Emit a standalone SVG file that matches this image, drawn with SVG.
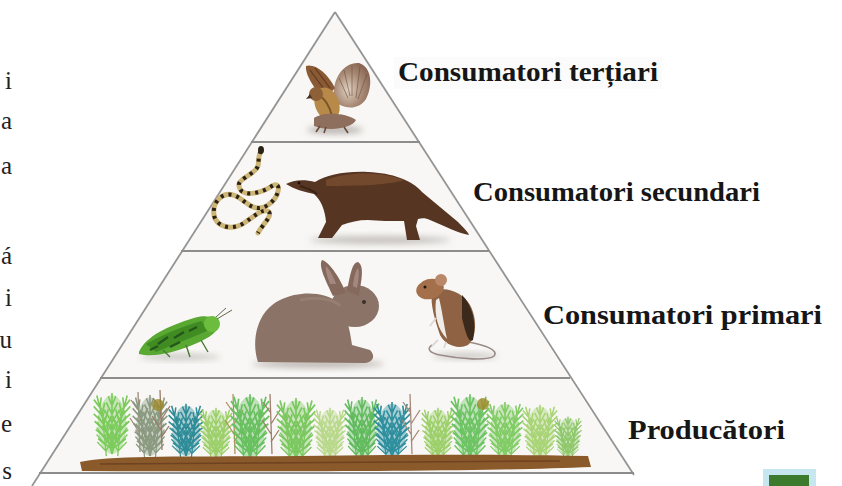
<svg xmlns="http://www.w3.org/2000/svg" width="842" height="486" viewBox="0 0 842 486">
  <style>
    .edge { stroke: #949494; stroke-width: 1.8; fill: none; }
    .shelf { stroke: #8c8c8c; stroke-width: 2.2; }
    .tier { fill: #f8f7f5; }
    .lbl { font-family: "Liberation Serif", "Times New Roman", serif; font-weight: bold; font-size: 28px; fill: #161616; }
    .side { font-family: "Liberation Serif", "Times New Roman", serif; font-size: 25px; fill: #222; text-anchor: end; }
    .lblbg { fill: #f3f3f3; }
  </style>
  <defs>
    <filter id="soft" x="-10%" y="-10%" width="120%" height="120%">
      <feGaussianBlur stdDeviation="0.7"/>
    </filter>
    <filter id="shadow" x="-30%" y="-60%" width="160%" height="220%">
      <feGaussianBlur stdDeviation="3"/>
    </filter>
    <radialGradient id="fan" cx="0.4" cy="0.6" r="0.7">
      <stop offset="0" stop-color="#e0d2c2"/>
      <stop offset="0.55" stop-color="#a88a76"/>
      <stop offset="1" stop-color="#84604e"/>
    </radialGradient>
    <!-- one fern frond, coloured through currentColor -->
    <path id="frond" d="M0,0 L0,-58 M0,-6 L-10,-18 M0,-6 L10,-18 M0,-14 L-10,-27 M0,-14 L10,-27 M0,-22 L-9,-35 M0,-22 L9,-35 M0,-30 L-8,-42 M0,-30 L8,-42 M0,-38 L-6,-49 M0,-38 L6,-49 M0,-46 L-4,-55 M0,-46 L4,-55" stroke="currentColor" stroke-width="1.7" fill="none"/>
    <g id="bush">
      <ellipse cx="0" cy="-28" rx="15" ry="28" fill="currentColor" opacity="0.4"/>
      <use href="#frond" transform="rotate(-16)"/>
      <use href="#frond"/>
      <use href="#frond" transform="rotate(16)"/>
      <use href="#frond" transform="translate(-6,2) rotate(-6) scale(0.8)"/>
      <use href="#frond" transform="translate(6,2) rotate(6) scale(0.8)"/>
    </g>
    <!-- dry stalks -->
    <path id="stalk" d="M0,0 L-2,-60 M-1,-20 L-10,-34 M-1,-30 L8,-44 M-2,-42 L-9,-52 M-1,-12 L7,-24" stroke="currentColor" stroke-width="1.3" fill="none"/>
  </defs>

  <rect width="842" height="486" fill="#ffffff"/>

  <!-- text column running into the left edge -->
  <g id="side-text">
    <text class="side" x="12" y="89">i</text>
    <text class="side" x="12" y="129">a</text>
    <text class="side" x="12" y="174">a</text>
    <text class="side" x="12" y="264">á</text>
    <text class="side" x="12" y="306">i</text>
    <text class="side" x="12" y="348">u</text>
    <text class="side" x="12" y="388">i</text>
    <text class="side" x="12" y="432">e</text>
    <text class="side" x="12" y="479">s</text>
  </g>

  <!-- pyramid body -->
  <g id="pyramid">
    <polygon class="tier" points="335,12 251.8,142 418.2,142"/>
    <polygon class="tier" points="251.8,142 418.2,142 488,251 182,251"/>
    <polygon class="tier" points="182,251 488,251 569,378 101,378"/>
    <polygon class="tier" points="101,378 569,378 632,473 40,473"/>
    <line class="edge" x1="335" y1="12" x2="32" y2="486"/>
    <line class="edge" x1="335" y1="12" x2="634" y2="475"/>
    <line class="shelf" x1="251" y1="142" x2="420" y2="142"/>
    <line class="shelf" x1="181" y1="251" x2="489" y2="251"/>
    <line class="shelf" x1="100" y1="378" x2="570" y2="378"/>
    <line class="shelf" x1="39" y1="473" x2="634" y2="473"/>
  </g>

  <!-- top tier: bird of prey -->
  <g id="tertiary" filter="url(#soft)">
    <ellipse cx="335" cy="130" rx="28" ry="4" fill="#b9b4b0" filter="url(#shadow)"/>
    <path d="M334,98 C332,78 344,62 359,63 C372,67 373,86 366,99 C359,110 344,110 334,101 Z" fill="url(#fan)"/>
    <path d="M344,70 L350,96 M352,66 L352,96 M360,66 L356,98 M367,74 L358,99 M339,78 L348,98" stroke="#6e4e3e" stroke-width="1" opacity="0.6"/>
    <path d="M324,100 C316,90 305,76 306,66 C314,63 327,72 335,88 Z" fill="#8a5a36"/>
    <path d="M310,70 L326,92 M315,68 L330,88" stroke="#5e3a22" stroke-width="1.2"/>
    <ellipse cx="327" cy="104" rx="12" ry="17" transform="rotate(-20 327 104)" fill="#b88a4a"/>
    <path d="M320,96 C326,100 330,108 332,116" stroke="#7a5428" stroke-width="2" fill="none"/>
    <circle cx="316" cy="94" r="7" fill="#8e6038"/>
    <path d="M310,94 L306,99 L312,98 Z" fill="#4a3020"/>
    <path d="M314,118 C322,112 345,112 356,120 C352,128 330,132 314,126 Z" fill="#8e6e5c"/>
    <path d="M320,126 L316,132 M326,127 L324,133 M344,127 L348,133" stroke="#6a4a3a" stroke-width="1.6"/>
  </g>

  <!-- second tier: snake and mongoose -->
  <g id="secondary" filter="url(#soft)">
    <ellipse cx="380" cy="240" rx="70" ry="4" fill="#c4c0bc" filter="url(#shadow)"/>
    <path d="M261,151 C256,159 262,166 253,172 C243,180 236,181 240,189 C244,197 262,193 272,186 C282,180 280,197 268,205 C254,214 246,201 236,196 C222,190 212,203 214,215 C216,227 232,231 244,223 C256,215 262,209 268,211 C274,215 262,225 258,233" stroke="#cdb577" stroke-width="5" fill="none" stroke-linecap="round"/>
    <path d="M261,151 C256,159 262,166 253,172 C243,180 236,181 240,189 C244,197 262,193 272,186 C282,180 280,197 268,205 C254,214 246,201 236,196 C222,190 212,203 214,215 C216,227 232,231 244,223 C256,215 262,209 268,211 C274,215 262,225 258,233" stroke="#2a2214" stroke-width="4" fill="none" stroke-dasharray="3 5"/>
    <ellipse cx="261" cy="150" rx="3" ry="4" fill="#2a2214"/>
    <path d="M286,184 C293,180 304,179 315,182 C326,175 345,171 368,172 C392,173 412,180 422,192 C434,202 446,212 458,222 C464,228 468,232 469,235 C458,233 444,226 430,220 C426,218 422,218 418,219 L416,226 L420,240 L407,240 L404,221 C392,221 378,221 368,220 C358,220 350,222 342,225 L332,238 L318,238 L326,222 C325,210 321,200 314,194 C304,192 294,189 286,184 Z" fill="#563522"/>
    <path d="M326,180 C346,172 380,171 404,180 C390,185 358,186 326,186 Z" fill="#7a4e32" opacity="0.8"/>
    <path d="M300,186 C306,188 313,190 317,194" stroke="#3a2418" stroke-width="2" fill="none"/>
    <circle cx="299" cy="183" r="1.4" fill="#1a0e08"/>
  </g>

  <!-- third tier: grasshopper, rabbit, mouse -->
  <g id="primary" filter="url(#soft)">
    <ellipse cx="180" cy="357" rx="40" ry="3" fill="#c8c4c0" filter="url(#shadow)"/>
    <ellipse cx="318" cy="364" rx="66" ry="4" fill="#bcb6b2" filter="url(#shadow)"/>
    <ellipse cx="465" cy="356" rx="32" ry="3" fill="#c8c4c0" filter="url(#shadow)"/>

    <g id="grasshopper">
      <path d="M139,352 C146,336 168,326 194,318 C206,314 216,317 219,325 C217,334 205,340 190,346 C174,352 154,358 139,354 Z" fill="#58a832"/>
      <path d="M146,344 C160,336 185,325 202,321 L207,331 C190,338 170,346 156,352 Z" fill="#3f8c24"/>
      <path d="M158,344 L168,337 M174,338 L184,332 M189,331 L197,327 M150,350 L158,346 M170,347 L180,342" stroke="#24561a" stroke-width="2.4"/>
      <ellipse cx="212" cy="324" rx="8" ry="8" fill="#6cbd3c"/>
      <path d="M217,319 L232,310 M216,317 L226,308" stroke="#5a6a50" stroke-width="1"/>
      <path d="M186,345 L190,357 M201,340 L208,352 M163,350 L170,357" stroke="#4a7a30" stroke-width="1.4"/>
    </g>

    <g id="rabbit">
      <path d="M258,362 C251,340 257,311 280,300 C300,290 325,292 338,302 C346,311 350,330 352,345 L370,350 C376,356 373,362 365,363 Z" fill="#8b7367"/>
      <ellipse cx="355" cy="306" rx="24" ry="21" fill="#8b7367"/>
      <path d="M333,296 C326,281 318,266 322,260 C330,262 341,280 346,293 Z" fill="#86695d"/>
      <path d="M347,291 C350,276 352,262 358,262 C365,266 361,282 359,296 Z" fill="#86695d"/>
      <path d="M330,284 C327,276 325,270 326,266 C330,270 334,278 336,284 Z" fill="#a48880"/>
      <path d="M353,286 C354,276 356,270 358,268 C360,274 358,282 357,288 Z" fill="#a48880"/>
      <circle cx="364" cy="302" r="2" fill="#3e2e28"/>
      <path d="M300,300 C320,296 335,300 340,306" stroke="#9c857a" stroke-width="3" fill="none" opacity="0.6"/>
    </g>

    <g id="mouse">
      <path d="M468,342 C485,345 499,350 494,356 C488,361 460,359 440,355 C430,353 426,349 432,345" stroke="#9a8c88" stroke-width="1.6" fill="none"/>
      <path d="M432,292 C445,285 462,292 470,305 C478,320 476,338 468,345 C458,350 445,345 440,335 C435,320 430,305 432,292 Z" fill="#8e6242"/>
      <path d="M462,295 C472,305 477,322 473,340 C468,344 465,330 462,318 Z" fill="#3a2a1e"/>
      <path d="M436,300 C434,315 438,330 447,339 C444,325 442,310 439,298 Z" fill="#f0ece8"/>
      <ellipse cx="430" cy="289" rx="14" ry="10" transform="rotate(-15 430 289)" fill="#a4704c"/>
      <circle cx="441" cy="280" r="6" fill="#b88868"/>
      <circle cx="425" cy="287" r="1.5" fill="#1e140e"/>
      <path d="M438,340 L432,346 M446,342 L444,348 M436,318 L430,326" stroke="#e0d8d4" stroke-width="2"/>
    </g>
  </g>

  <!-- bottom tier: plants on soil -->
  <g id="producers" filter="url(#soft)">
    <g>
      <use href="#bush" transform="translate(112,454) scale(0.95,1.05)" style="color:#7ccb5c"/>
      <use href="#stalk" transform="translate(140,452)" style="color:#a08a78"/>
      <use href="#bush" transform="translate(150,456) scale(0.9,1.05)" style="color:#8a9a80"/>
      <use href="#stalk" transform="translate(162,450)" style="color:#9a7a68"/>
      <use href="#bush" transform="translate(186,456) scale(0.9)" style="color:#2e8c98"/>
      <use href="#bush" transform="translate(216,457) scale(0.85)" style="color:#9ccf6a"/>
      <use href="#stalk" transform="translate(235,454)" style="color:#b09060"/>
      <use href="#bush" transform="translate(250,458) scale(1.0,1.1)" style="color:#68c060"/>
      <use href="#stalk" transform="translate(272,454)" style="color:#a07e6e"/>
      <use href="#bush" transform="translate(296,459) scale(1.0,1.05)" style="color:#7cc860"/>
      <use href="#bush" transform="translate(330,457) scale(0.85)" style="color:#b8d88a"/>
      <use href="#bush" transform="translate(362,458) scale(0.9,1.05)" style="color:#62bb5e"/>
      <use href="#bush" transform="translate(392,457) scale(0.95)" style="color:#2e8f9e"/>
      <use href="#stalk" transform="translate(412,454)" style="color:#a88878"/>
      <use href="#bush" transform="translate(438,457) scale(0.85)" style="color:#9ccf6a"/>
      <use href="#bush" transform="translate(470,458) scale(1.0,1.1)" style="color:#6ec464"/>
      <use href="#bush" transform="translate(505,457) scale(0.95)" style="color:#82cc66"/>
      <use href="#bush" transform="translate(540,457) scale(0.9)" style="color:#a8d476"/>
      <use href="#bush" transform="translate(568,457) scale(0.7)" style="color:#8ec86a"/>
      <circle cx="158" cy="405" r="6" fill="#9a8a2a" opacity="0.8"/>
      <circle cx="483" cy="404" r="6" fill="#a08a2a" opacity="0.8"/>
    </g>
    <path d="M80,462 C110,455 200,457 300,456 C400,455 500,454 588,456 L591,467 C500,471 300,472 82,471 Z" fill="#8b5a2b"/>
    <path d="M100,464 C200,462 350,462 560,461" stroke="#6e4220" stroke-width="1.5" fill="none"/>
  </g>

  <!-- level labels -->
  <g id="labels">
    <rect class="lblbg" x="394" y="57" width="268" height="32" opacity="0.35"/>
    <text class="lbl" x="398" y="81" textLength="260" lengthAdjust="spacingAndGlyphs">Consumatori terțiari</text>
    <text class="lbl" x="473" y="201" textLength="287" lengthAdjust="spacingAndGlyphs">Consumatori secundari</text>
    <text class="lbl" x="543" y="324" textLength="279" lengthAdjust="spacingAndGlyphs">Consumatori primari</text>
    <text class="lbl" x="628" y="439" textLength="157" lengthAdjust="spacingAndGlyphs">Producători</text>
  </g>

  <!-- corner badge -->
  <g id="badge">
    <rect x="763" y="469" width="53" height="17" fill="#c6e6f0"/>
    <rect x="769" y="475" width="40" height="11" fill="#3c7a2e"/>
  </g>
</svg>
